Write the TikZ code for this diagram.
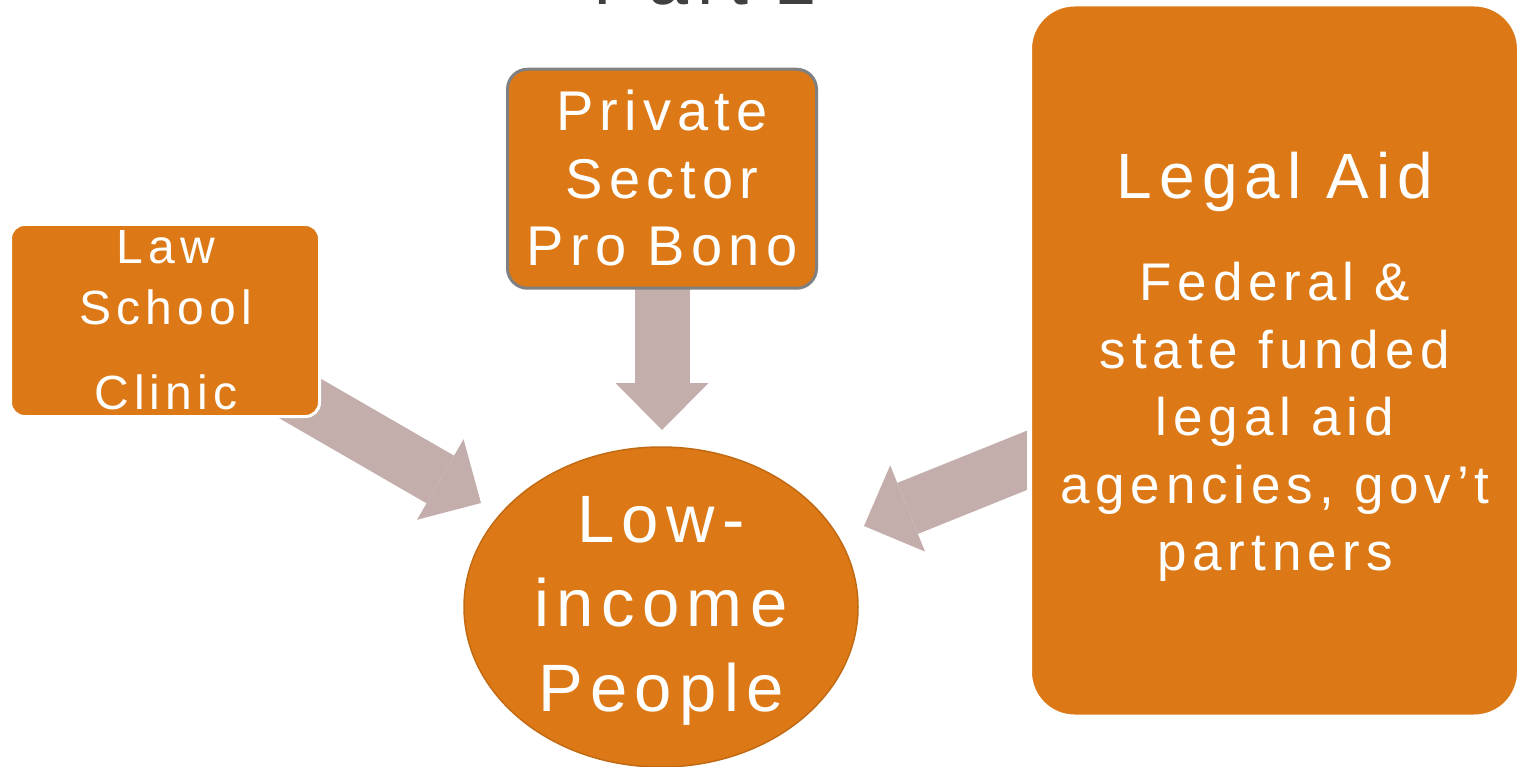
\documentclass[tikz,border=0pt]{standalone}
\usepackage{fontspec}
\setmainfont[LetterSpace=11]{Liberation Sans}
\usetikzlibrary{arrows.meta,backgrounds,shapes.geometric}
\definecolor{orng}{HTML}{DC7916}
\definecolor{arw}{HTML}{C3AEAC}
\definecolor{pbgray}{HTML}{808080}
\definecolor{ttl}{HTML}{404040}
\begin{document}
\begin{tikzpicture}[x=1pt,y=-1pt,
  box/.style={fill=orng, rounded corners=#1, inner sep=0pt},
  txt/.style={text=white, align=center, inner sep=0pt, anchor=north},
  bigarrow/.style={draw=arw, line width=55pt, line cap=butt,
    -{Triangle[length=47pt,width=93pt,line width=0pt]}}]
\useasboundingbox (0,0) rectangle (1518,767);
% title (cut off at the top)
\node[text=ttl, font=\fontsize{72}{72}\selectfont, anchor=base, inner sep=0pt] (title) at (705,5) {Part 2};
% boxes
\node[box=14pt, draw=white, line width=3pt, minimum width=309pt, minimum height=192pt] (law) at (165,320.5) {};
\node[box=20pt, draw=pbgray, line width=3pt, minimum width=309pt, minimum height=219pt] (pb) at (662,178.75) {};
\node[box=45pt, draw=white, line width=5pt, minimum width=490pt, minimum height=713pt] (legal) at (1274.5,360.5) {};
\node[ellipse, fill=orng, draw=orng!88!black, line width=1.5pt, minimum width=394pt, minimum height=320pt, inner sep=0pt] (low) at (661,607) {};
% texts
\node[txt, font=\fontsize{48}{61}\selectfont] (lawtxt) at (166,230) {Law\\School\\[24pt]Clinic};
\node[txt, font=\fontsize{56}{67.5}\selectfont] (pbtxt) at (662,90) {Private\\Sector\\Pro Bono};
\node[txt, font=\fontsize{64}{64}\selectfont] (legaltitle) at (1275,152) {Legal Aid};
\node[txt, font=\fontsize{53}{67.5}\selectfont] (legaltxt) at (1275,262) {Federal \&\\state funded\\legal aid\\agencies, gov’t\\partners};
\node[txt, font=\fontsize{67}{84.5}\selectfont] (lowtxt) at (661,496) {Low-\\income\\People};
% arrows
\coordinate (t1) at (481,503);
\coordinate (t2) at (662,430);
\coordinate (t3) at (864,526);
\begin{scope}[on background layer]
\draw[bigarrow] (law.center) -- (t1);
\draw[bigarrow] (pb.center) -- (t2);
\draw[bigarrow] (legal.center) -- (t3);
\end{scope}
\end{tikzpicture}
\end{document}
